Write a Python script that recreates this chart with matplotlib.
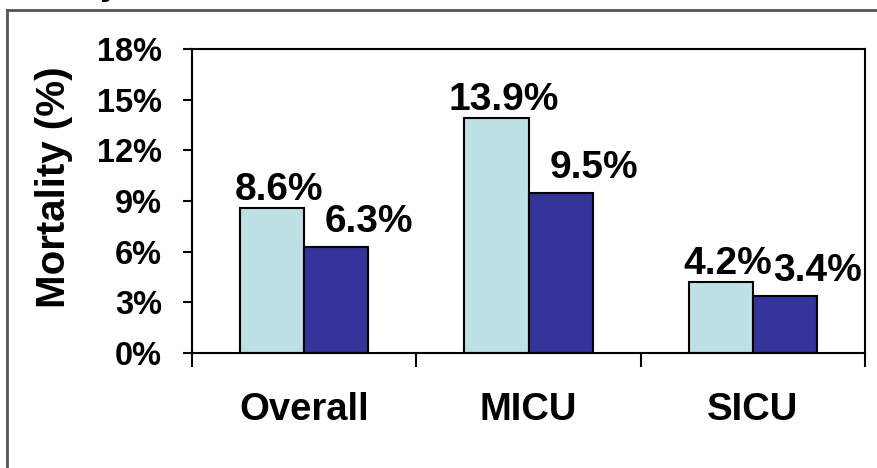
import matplotlib
matplotlib.use("Agg")
import matplotlib.pyplot as plt
from matplotlib.lines import Line2D
from matplotlib.transforms import offset_copy

# dados de mortalidade por unidade
categorias = ["Overall", "MICU", "SICU"]
serie_a = [8.6, 13.9, 4.2]
serie_b = [6.3, 9.5, 3.4]
yticks = [0, 3, 6, 9, 12, 15, 18]

cor_a = "#BCE0E3"
cor_b = "#333399"
fonte = "Liberation Sans"

fig = plt.figure(figsize=(8.77, 4.68), dpi=100)
ax = fig.add_axes([192 / 877, 115 / 468, 673 / 877, 304 / 468])

larg = 0.286
x = list(range(len(categorias)))
xa = [i - larg / 2 for i in x]
xb = [i + larg / 2 for i in x]
ax.bar(xa, serie_a, width=larg, color=cor_a, edgecolor="black", linewidth=1.5)
ax.bar(xb, serie_b, width=larg, color=cor_b, edgecolor="black", linewidth=1.5)

ax.set_xlim(-0.5, 2.5)
ax.set_ylim(0, 18)

# rotulos de valor acima das barras (deslocados em pixels)
for xx, v in zip(xa, serie_a):
    tr = offset_copy(ax.transData, fig=fig, x=7, y=8, units="dots")
    ax.text(xx, v, f"{v:.1f}%", transform=tr, ha="center", va="baseline",
            fontsize=28, fontweight="bold", family=fonte)
for xx, v in zip(xb, serie_b):
    tr = offset_copy(ax.transData, fig=fig, x=33, y=15, units="dots")
    ax.text(xx, v, f"{v:.1f}%", transform=tr, ha="center", va="baseline",
            fontsize=28, fontweight="bold", family=fonte)

# eixo y
ax.set_yticks(yticks)
ax.set_yticklabels([f"{t}%" for t in yticks], fontsize=23.5, fontweight="bold", family=fonte)
ax.tick_params(axis="y", direction="out", length=6.5, width=1.5, pad=15)

# eixo x: marcas nas divisas, nomes no centro
ax.set_xticks([-0.5, 0.5, 1.5, 2.5])
ax.set_xticklabels([])
ax.tick_params(axis="x", direction="out", length=10, width=1.5)
for i, nome in zip(x, categorias):
    ax.text(i, -0.1875, nome, transform=ax.get_xaxis_transform(), ha="center", va="center",
            fontsize=27.5, fontweight="bold", family=fonte)

for s in ax.spines.values():
    s.set_linewidth(1.5)

fig.text(54 / 877, 1 - 187 / 468, "Mortality (%)", rotation=90, ha="center", va="center",
         fontsize=29, fontweight="bold", family=fonte)

# titulo cortado no topo
fig.text(100 / 877, 1 + 6 / 468, "y", ha="left", va="baseline",
         fontsize=26, fontweight="bold", family=fonte)

# moldura externa
fig.add_artist(Line2D([7 / 877, 7 / 877], [0, 1 - 10 / 468], color="#555555", lw=2))
fig.add_artist(Line2D([7 / 877, 1], [1 - 10 / 468, 1 - 10 / 468], color="#555555", lw=2))

fig.savefig("out.png", dpi=100)
